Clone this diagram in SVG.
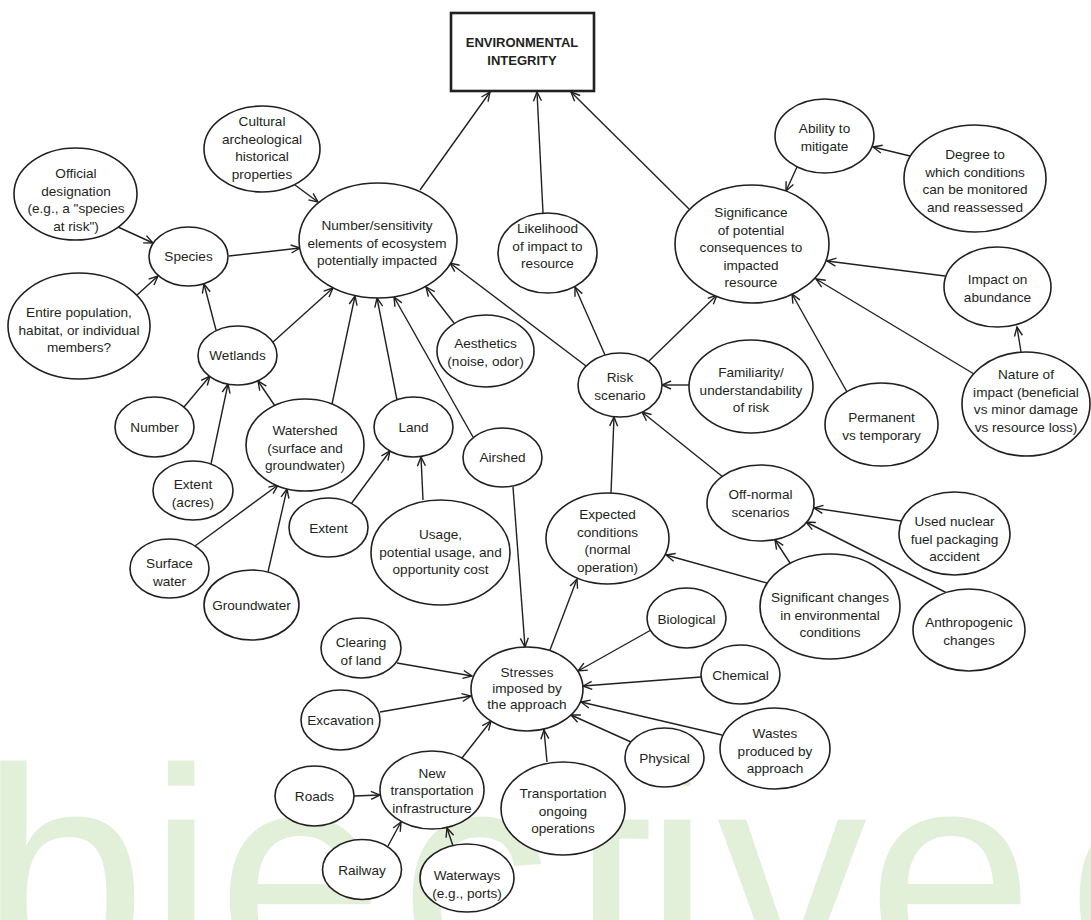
<svg xmlns="http://www.w3.org/2000/svg" width="1091" height="920" viewBox="0 0 1091 920">
<defs>
<marker id="arr" markerUnits="userSpaceOnUse" markerWidth="12" markerHeight="12" refX="10" refY="5" orient="auto">
<path d="M1,1 L10,5 L1,9" fill="none" stroke="#231f20" stroke-width="1.4"/>
</marker>
<style>
.wm{font-family:"Liberation Sans",Arial,sans-serif;font-size:300px;fill:#e2f0da}
.n ellipse{fill:#fff;stroke:#231f20;stroke-width:1.6}
.n text{font-family:"Liberation Sans",Arial,sans-serif;font-size:13.6px;fill:#231f20;text-anchor:middle}
.box rect{fill:#fff;stroke:#231f20;stroke-width:2.6}
.box text{font-family:"Liberation Sans",Arial,sans-serif;font-size:13px;font-weight:bold;fill:#231f20;text-anchor:middle}
#connectors line{stroke:#231f20;stroke-width:1.4;marker-end:url(#arr)}
</style>
</defs>
<rect width="1091" height="920" fill="#fff"/>
<text class="wm" x="-20 148 217 400 570 644 717 867 1067" y="978">bjectiveo</text>

<g id="connectors">
<line x1="420" y1="190" x2="490" y2="92"/>
<line x1="543" y1="213" x2="537" y2="92"/>
<line x1="689" y1="209" x2="571" y2="92"/>
<line x1="295" y1="185" x2="318" y2="202"/>
<line x1="118" y1="227" x2="153" y2="243"/>
<line x1="137" y1="295" x2="158" y2="276"/>
<line x1="229" y1="256" x2="300" y2="248"/>
<line x1="216" y1="330" x2="204" y2="284"/>
<line x1="273" y1="342" x2="333" y2="288"/>
<line x1="332" y1="404" x2="355" y2="296"/>
<line x1="397" y1="400" x2="377" y2="298"/>
<line x1="473" y1="437" x2="394" y2="297"/>
<line x1="454" y1="323" x2="426" y2="287"/>
<line x1="586" y1="366" x2="450" y2="263"/>
<line x1="605" y1="355" x2="575" y2="287"/>
<line x1="649" y1="361" x2="717" y2="295"/>
<line x1="847" y1="392" x2="792" y2="294"/>
<line x1="974" y1="374" x2="816" y2="279"/>
<line x1="945" y1="276" x2="827" y2="261"/>
<line x1="1021" y1="352" x2="1017" y2="327"/>
<line x1="910" y1="156" x2="873" y2="147"/>
<line x1="797" y1="167" x2="786" y2="191"/>
<line x1="689" y1="385" x2="662" y2="385"/>
<line x1="611" y1="493" x2="614" y2="417"/>
<line x1="723" y1="477" x2="642" y2="412"/>
<line x1="767" y1="583" x2="666" y2="555"/>
<line x1="790" y1="563" x2="775" y2="540"/>
<line x1="901" y1="521" x2="814" y2="508"/>
<line x1="947" y1="593" x2="806" y2="522"/>
<line x1="550" y1="650" x2="577" y2="579"/>
<line x1="513" y1="487" x2="525" y2="647"/>
<line x1="651" y1="630" x2="578" y2="671"/>
<line x1="701" y1="677" x2="583" y2="686"/>
<line x1="722" y1="735" x2="581" y2="702"/>
<line x1="631" y1="742" x2="571" y2="715"/>
<line x1="547" y1="762" x2="544" y2="730"/>
<line x1="462" y1="758" x2="491" y2="721"/>
<line x1="397" y1="663" x2="472" y2="676"/>
<line x1="380" y1="712" x2="471" y2="696"/>
<line x1="354" y1="796" x2="380" y2="795"/>
<line x1="388" y1="846" x2="401" y2="822"/>
<line x1="453" y1="846" x2="447" y2="828"/>
<line x1="184" y1="407" x2="210" y2="376"/>
<line x1="211" y1="464" x2="228" y2="384"/>
<line x1="275" y1="406" x2="258" y2="381"/>
<line x1="195" y1="546" x2="278" y2="485"/>
<line x1="268" y1="572" x2="287" y2="489"/>
<line x1="351" y1="504" x2="390" y2="451"/>
<line x1="423" y1="500" x2="421" y2="457"/>
</g>

<g id="env" class="box"><rect x="451" y="13" width="143" height="78"/><text x="522" y="47">ENVIRONMENTAL</text><text x="522" y="65">INTEGRITY</text></g>

<g id="cultural" class="n"><ellipse cx="262" cy="149" rx="58" ry="43"/><text><tspan x="262" y="126">Cultural</tspan><tspan x="262" y="143.5">archeological</tspan><tspan x="262" y="161">historical</tspan><tspan x="262" y="178.5">properties</tspan></text></g>
<g id="official" class="n"><ellipse cx="75.5" cy="194" rx="61.5" ry="46"/><text><tspan x="76" y="178">Official</tspan><tspan x="76" y="195.5">designation</tspan><tspan x="76" y="213">(e.g., a "species</tspan><tspan x="76" y="230.5">at risk")</tspan></text></g>
<g id="species" class="n"><ellipse cx="188.5" cy="256.5" rx="39.5" ry="29.5"/><text x="188.5" y="261">Species</text></g>
<g id="number-sensitivity" class="n"><ellipse cx="378" cy="240.5" rx="79" ry="57.5"/><text><tspan x="377" y="230">Number/sensitivity</tspan><tspan x="377" y="247.5">elements of ecosystem</tspan><tspan x="377" y="265">potentially impacted</tspan></text></g>
<g id="entire" class="n"><ellipse cx="79" cy="326" rx="71" ry="53"/><text><tspan x="79" y="317">Entire population,</tspan><tspan x="79" y="334.5">habitat, or individual</tspan><tspan x="79" y="352">members?</tspan></text></g>
<g id="wetlands" class="n"><ellipse cx="237.5" cy="355.5" rx="39.5" ry="29.5"/><text x="237.5" y="360">Wetlands</text></g>
<g id="number" class="n"><ellipse cx="154.5" cy="427" rx="39.5" ry="30"/><text x="154.5" y="432">Number</text></g>
<g id="extent-acres" class="n"><ellipse cx="193" cy="490.5" rx="40" ry="29.5"/><text><tspan x="193" y="489">Extent</tspan><tspan x="193" y="506.5">(acres)</tspan></text></g>
<g id="watershed" class="n"><ellipse cx="305" cy="445" rx="59" ry="46"/><text><tspan x="305" y="435">Watershed</tspan><tspan x="305" y="452.5">(surface and</tspan><tspan x="305" y="470">groundwater)</tspan></text></g>
<g id="extent" class="n"><ellipse cx="328.5" cy="527.5" rx="39.5" ry="29.5"/><text x="328.5" y="533">Extent</text></g>
<g id="surface-water" class="n"><ellipse cx="169.5" cy="568.5" rx="39.5" ry="29.5"/><text><tspan x="169.5" y="568">Surface</tspan><tspan x="169.5" y="585.5">water</tspan></text></g>
<g id="groundwater" class="n"><ellipse cx="251.5" cy="605" rx="47.5" ry="35"/><text x="251.5" y="610">Groundwater</text></g>
<g id="land" class="n"><ellipse cx="413.5" cy="427" rx="39.5" ry="30"/><text x="413.5" y="432">Land</text></g>
<g id="usage" class="n"><ellipse cx="440.5" cy="552.5" rx="69.5" ry="52.5"/><text><tspan x="440.5" y="539">Usage,</tspan><tspan x="440.5" y="556.5">potential usage, and</tspan><tspan x="440.5" y="574">opportunity cost</tspan></text></g>
<g id="aesthetics" class="n"><ellipse cx="485.5" cy="351" rx="48.5" ry="36"/><text><tspan x="485.5" y="348">Aesthetics</tspan><tspan x="485.5" y="365.5">(noise, odor)</tspan></text></g>
<g id="airshed" class="n"><ellipse cx="502.5" cy="457.5" rx="39.5" ry="29.5"/><text x="502.5" y="462">Airshed</text></g>
<g id="likelihood" class="n"><ellipse cx="547.5" cy="253" rx="49.5" ry="40"/><text><tspan x="547.5" y="233">Likelihood</tspan><tspan x="547.5" y="250.5">of impact to</tspan><tspan x="547.5" y="268">resource</tspan></text></g>
<g id="risk" class="n"><ellipse cx="620" cy="385" rx="42" ry="32"/><text><tspan x="620" y="382">Risk</tspan><tspan x="620" y="399.5">scenario</tspan></text></g>
<g id="familiarity" class="n"><ellipse cx="751" cy="386.5" rx="62" ry="46.5"/><text><tspan x="751" y="377">Familiarity/</tspan><tspan x="751" y="394.5">understandability</tspan><tspan x="751" y="412">of risk</tspan></text></g>
<g id="permanent" class="n"><ellipse cx="881.5" cy="424.5" rx="56.5" ry="41.5"/><text><tspan x="881.5" y="422">Permanent</tspan><tspan x="881.5" y="439.5">vs temporary</tspan></text></g>
<g id="nature" class="n"><ellipse cx="1026" cy="404" rx="64" ry="52"/><text><tspan x="1026" y="379">Nature of</tspan><tspan x="1026" y="396.5">impact (beneficial</tspan><tspan x="1026" y="414">vs minor damage</tspan><tspan x="1026" y="431.5">vs resource loss)</tspan></text></g>
<g id="abundance" class="n"><ellipse cx="997.5" cy="287" rx="53.5" ry="40"/><text><tspan x="997.5" y="284">Impact on</tspan><tspan x="997.5" y="301.5">abundance</tspan></text></g>
<g id="significance" class="n"><ellipse cx="752" cy="244" rx="77" ry="59"/><text><tspan x="751" y="217">Significance</tspan><tspan x="751" y="234.5">of potential</tspan><tspan x="751" y="252">consequences to</tspan><tspan x="751" y="269.5">impacted</tspan><tspan x="751" y="287">resource</tspan></text></g>
<g id="ability" class="n"><ellipse cx="824.5" cy="136" rx="49.5" ry="37"/><text><tspan x="824.5" y="133">Ability to</tspan><tspan x="824.5" y="150.5">mitigate</tspan></text></g>
<g id="degree" class="n"><ellipse cx="975" cy="178.5" rx="71" ry="53.5"/><text><tspan x="975" y="159">Degree to</tspan><tspan x="975" y="176.5">which conditions</tspan><tspan x="975" y="194">can be monitored</tspan><tspan x="975" y="211.5">and reassessed</tspan></text></g>
<g id="off-normal" class="n"><ellipse cx="760.5" cy="503" rx="53.5" ry="38"/><text><tspan x="760.5" y="499">Off-normal</tspan><tspan x="760.5" y="516.5">scenarios</tspan></text></g>
<g id="used-nuclear" class="n"><ellipse cx="954.5" cy="533.5" rx="55.5" ry="41.5"/><text><tspan x="954.5" y="526">Used nuclear</tspan><tspan x="954.5" y="543.5">fuel packaging</tspan><tspan x="954.5" y="561">accident</tspan></text></g>
<g id="significant-changes" class="n"><ellipse cx="830" cy="606.5" rx="70" ry="52.5"/><text><tspan x="830" y="602">Significant changes</tspan><tspan x="830" y="619.5">in environmental</tspan><tspan x="830" y="637">conditions</tspan></text></g>
<g id="anthropogenic" class="n"><ellipse cx="969" cy="630" rx="56" ry="41"/><text><tspan x="969" y="627">Anthropogenic</tspan><tspan x="969" y="644.5">changes</tspan></text></g>
<g id="expected" class="n"><ellipse cx="607.5" cy="538.5" rx="61.5" ry="45.5"/><text><tspan x="607.5" y="519">Expected</tspan><tspan x="607.5" y="536.5">conditions</tspan><tspan x="607.5" y="554">(normal</tspan><tspan x="607.5" y="571.5">operation)</tspan></text></g>
<g id="biological" class="n"><ellipse cx="686.5" cy="618" rx="39.5" ry="30"/><text x="686.5" y="624">Biological</text></g>
<g id="chemical" class="n"><ellipse cx="740.5" cy="674.5" rx="39.5" ry="29.5"/><text x="740.5" y="680">Chemical</text></g>
<g id="wastes" class="n"><ellipse cx="775" cy="748.5" rx="55" ry="40.5"/><text><tspan x="775" y="738">Wastes</tspan><tspan x="775" y="755.5">produced by</tspan><tspan x="775" y="773">approach</tspan></text></g>
<g id="physical" class="n"><ellipse cx="664.5" cy="757.5" rx="39.5" ry="29.5"/><text x="664.5" y="763">Physical</text></g>
<g id="transportation-ops" class="n"><ellipse cx="563" cy="808.5" rx="62" ry="46.5"/><text><tspan x="563" y="798">Transportation</tspan><tspan x="563" y="815.5">ongoing</tspan><tspan x="563" y="833">operations</tspan></text></g>
<g id="stresses" class="n"><ellipse cx="527" cy="689" rx="56" ry="42"/><text><tspan x="527" y="676.5">Stresses</tspan><tspan x="527" y="692.5">imposed by</tspan><tspan x="527" y="708.5">the approach</tspan></text></g>
<g id="new-transportation" class="n"><ellipse cx="432" cy="790" rx="52" ry="39"/><text><tspan x="432" y="777.5">New</tspan><tspan x="432" y="795">transportation</tspan><tspan x="432" y="812.5">infrastructure</tspan></text></g>
<g id="waterways" class="n"><ellipse cx="467" cy="878" rx="47" ry="34"/><text><tspan x="467" y="880">Waterways</tspan><tspan x="467" y="897.5">(e.g., ports)</tspan></text></g>
<g id="railway" class="n"><ellipse cx="362" cy="869.5" rx="39.5" ry="30"/><text x="362" y="875">Railway</text></g>
<g id="roads" class="n"><ellipse cx="314.5" cy="796" rx="39.5" ry="30"/><text x="314.5" y="801">Roads</text></g>
<g id="excavation" class="n"><ellipse cx="340.5" cy="720" rx="39.5" ry="30"/><text x="340.5" y="725">Excavation</text></g>
<g id="clearing" class="n"><ellipse cx="361" cy="648" rx="40" ry="30"/><text><tspan x="361" y="647">Clearing</tspan><tspan x="361" y="664.5">of land</tspan></text></g>
</svg>
